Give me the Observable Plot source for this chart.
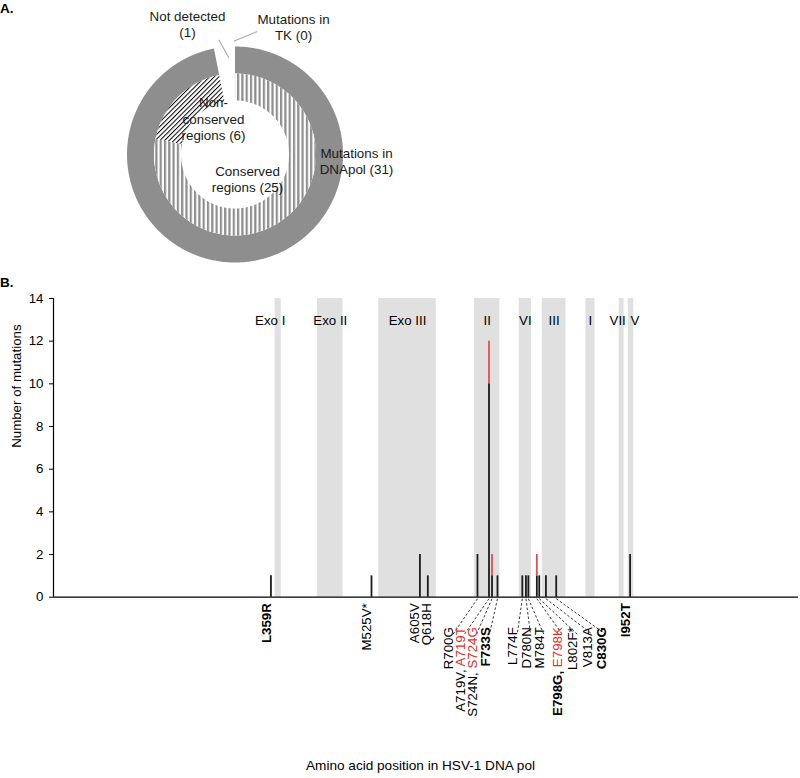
<!DOCTYPE html>
<html>
<head>
<meta charset="utf-8">
<script src="https://cdn.jsdelivr.net/npm/d3@7"></script>
<script src="https://cdn.jsdelivr.net/npm/@observablehq/plot@0.6"></script>
<style>
  body { margin: 0; background: #fff; font-family: "Liberation Sans", Arial, sans-serif; }
  #wrap { position: relative; width: 800px; height: 778px; overflow: hidden; background: #fff; }
  .plabel { position: absolute; font-weight: bold; font-size: 13.5px; line-height: 13.5px; color: #000; }
  #donut { position: absolute; left: 0; top: 0; }
  #bars { position: absolute; left: 0; top: 280px; }
</style>
</head>
<body>
<div id="wrap">
  <div id="donut"></div>
  <div id="bars"></div>
  <div class="plabel" style="left:0px;top:2px">A.</div>
  <div class="plabel" style="left:0px;top:276px">B.</div>
</div>
<script>
// ================= DATA =================
// Panel A: doughnut
const outerCategories = ["Mutations in DNApol", "Not detected", "Mutations in TK"];
const outerValues = [31, 1, 0];
const innerCategories = ["Conserved regions", "Non-conserved regions", "Not detected"];
const innerValues = [25, 6, 1];

// Panel B: conserved regions of HSV-1 DNA pol (amino acid ranges)
const regionNames = ["Exo I", "Exo II", "Exo III", "II", "VI", "III", "I", "VII", "V"];
const regionStart = [366, 436, 537, 695, 769, 807, 879, 934, 949];
const regionEnd   = [376, 478, 632, 737, 789, 846, 894, 942, 958];

// Panel B: mutations
const mutationNames     = ["L359R","M525V","A605V","Q618H","R700G","A719V","A719T","S724N","S724G","F733S","L774F","D780N","M784T","E798G","E798K","L802F","V813A","C830G","I952T"];
const mutationPositions = [359, 525, 605, 618, 700, 719, 719, 724, 724, 733, 774, 780, 784, 798, 798, 802, 813, 830, 952];
const mutationCounts    = [1, 1, 2, 1, 2, 10, 2, 1, 1, 1, 1, 1, 1, 1, 1, 1, 1, 1, 2];
const mutationClass     = ["standard","standard","standard","standard","standard","standard","highlighted","standard","highlighted","standard","standard","standard","standard","standard","highlighted","standard","standard","standard","standard"];

// Axis labels under the position axis
const axisLabelTexts     = ["L359R","M525V*","A605V","Q618H","R700G","A719V, A719T","S724N, S724G","F733S","L774F","D780N","M784T","E798G, E798K","L802F*","V813A","C830G","I952T"];
const axisLabelPositions = [359, 525, 605, 618, 700, 719, 724, 733, 774, 780, 784, 798, 802, 813, 830, 952];
const boldNames = ["L359R","F733S","E798G","C830G","I952T"];

const yTicks = [0, 2, 4, 6, 8, 10, 12, 14];

// ================= STYLE / LAYOUT =================
const FONT = "'Liberation Sans', Arial, Helvetica, sans-serif";
const RED_TEXT = "#e62e28";
const RED_BAR = "#df5050";
const RING_GRAY = "#8e8e8e";

// ---------------- Panel A ----------------
const A_W = 400, A_H = 280, A_CX = 234.5, A_CY = 154, A_R = 108;
const ringInner = 0.75, holeR = 0.5; // relative radii

const pie = d3.pie().sort(null).value(d => d.value);
const outerArcs = pie(outerCategories.map((c, i) => ({cat: c, value: outerValues[i]})));
const innerArcs = pie(innerCategories.map((c, i) => ({cat: c, value: innerValues[i]})));

function ringSlice(a0, a1, r0, r1) {
  const n = Math.max(2, Math.ceil((a1 - a0) / 0.01));
  const pts = [];
  for (let i = 0; i <= n; i++) { const a = a0 + (a1 - a0) * i / n; pts.push([r1 * Math.sin(a), r1 * Math.cos(a)]); }
  for (let i = n; i >= 0; i--) { const a = a0 + (a1 - a0) * i / n; pts.push([r0 * Math.sin(a), r0 * Math.cos(a)]); }
  pts.push(pts[0]);
  return pts;
}
const outerFill = {"Mutations in DNApol": RING_GRAY, "Not detected": "none", "Mutations in TK": "none"};
const innerFill = {"Conserved regions": "url(#vstripe)", "Non-conserved regions": "url(#hatch)", "Not detected": "none"};

const sliceMarks = [];
outerArcs.filter(a => a.value > 0 && outerFill[a.data.cat] !== "none").forEach(a => {
  sliceMarks.push(Plot.line(ringSlice(a.startAngle, a.endAngle, ringInner, 1), {x: d => d[0], y: d => d[1], fill: outerFill[a.data.cat], stroke: "none"}));
});
innerArcs.filter(a => a.value > 0 && innerFill[a.data.cat] !== "none").forEach(a => {
  sliceMarks.push(Plot.line(ringSlice(a.startAngle, a.endAngle, holeR, ringInner), {x: d => d[0], y: d => d[1], fill: innerFill[a.data.cat], stroke: "none"}));
});

// label positions (pixels in panel A) -> unit coordinates
const ux = px => (px - A_CX) / A_R, uy = py => (A_CY - py) / A_R;
const donutLabels = [
  {text: `Not detected\n(${outerValues[1]})`, px: 187, py: 23.5},
  {text: `Mutations in\nTK (${outerValues[2]})`, px: 293, py: 26.2},
  {text: `Non-\nconserved\nregions (${innerValues[1]})`, px: 213, py: 117.9},
  {text: `Conserved\nregions (${innerValues[0]})`, px: 247, py: 178.2},
  {text: `Mutations in\nDNApol (${outerValues[0]})`, px: 356, py: 160.4}
];
const donutLeaders = [
  {x1: 218.3, y1: 39.3, x2: 228.3, y2: 57.3},
  {x1: 256.7, y1: 31.0, x2: 233.3, y2: 40.7}
];

const svgA = Plot.plot({
  width: A_W, height: A_H,
  marginLeft: A_CX - A_R, marginRight: A_W - A_CX - A_R,
  marginTop: A_CY - A_R, marginBottom: A_H - A_CY - A_R,
  x: {domain: [-1, 1], axis: null},
  y: {domain: [-1, 1], axis: null},
  style: {fontFamily: FONT, fontSize: "13.4px", background: "transparent", overflow: "visible", color: "#1a1a1a"},
  marks: [
    ...sliceMarks,
    Plot.link(donutLeaders, {x1: d => ux(d.x1), y1: d => uy(d.y1), x2: d => ux(d.x2), y2: d => uy(d.y2), stroke: "#a8a8a8", strokeWidth: 1.1}),
    Plot.text(donutLabels, {x: d => ux(d.px), y: d => uy(d.py), text: "text", lineHeight: 1.22, fill: "#1a1a1a", fontSize: 13.4})
  ]
});
const defs = document.createElementNS("http://www.w3.org/2000/svg", "defs");
defs.innerHTML = `
  <pattern id="vstripe" patternUnits="userSpaceOnUse" x="0" y="0" width="4.3" height="10">
    <rect width="4.3" height="10" fill="#fff"/><rect width="2.2" height="10" fill="${RING_GRAY}"/>
  </pattern>
  <pattern id="hatch" patternUnits="userSpaceOnUse" width="3.3" height="3.3" patternTransform="rotate(45)">
    <rect width="3.3" height="3.3" fill="#fff"/><rect x="0" y="0" width="1" height="3.3" fill="#000"/>
  </pattern>`;
svgA.insertBefore(defs, svgA.firstChild);
document.getElementById("donut").appendChild(svgA);

// ---------------- Panel B ----------------
const W = 800, H = 498, mL = 53, mR = 2, mT = 18, mB = 181.3;
const xMin = 0, xMax = 1230, yMax = 14;
const kx = (W - mL - mR) / (xMax - xMin);   // px per amino acid
const ky = (H - mT - mB) / yMax;           // px per mutation
const pxToX = px => xMin + (px - mL) / kx;  // page px -> amino acid
const belowAxis = px => -px / ky;           // px below the axis -> y value

const regions = regionNames.map((n, i) => ({name: n, start: regionStart[i], end: regionEnd[i]}));
const regionLabelShiftPx = {"Exo I": -8, "VII": -4, "V": 4};

const mutations = mutationNames.map((n, i) => ({name: n, pos: mutationPositions[i], count: mutationCounts[i], cls: mutationClass[i]}));
const redNames = mutationNames.filter((n, i) => mutationClass[i] === "highlighted");

// label columns for labels connected by dashed leader lines (page x, px)
const leaderColumnPx = {700: 452.5, 719: 464, 724: 476, 733: 489, 774: 516.7, 780: 530, 784: 543.3, 798: 561.7, 802: 576.7, 813: 591.7, 830: 605};
const directShiftPx = {605: -1, 618: 2.7};
const axisLabels = axisLabelTexts.map((t, i) => {
  const pos = axisLabelPositions[i];
  const col = leaderColumnPx[pos];
  return {text: t, pos, leader: col !== undefined, lx: col !== undefined ? pxToX(col) : pos + (directShiftPx[pos] || 0) / kx};
});
const direct = axisLabels.filter(d => !d.leader);
const leadered = axisLabels.filter(d => d.leader);

const svgB = Plot.plot({
  width: W, height: H,
  marginLeft: mL, marginRight: mR, marginTop: mT, marginBottom: mB,
  x: {domain: [xMin, xMax], axis: null},
  y: {domain: [0, yMax], ticks: yTicks, tickSize: 4, tickPadding: 6, label: null},
  color: {domain: ["standard", "highlighted"], range: ["#1c1c1c", RED_BAR]},
  style: {fontFamily: FONT, fontSize: "13.3px", background: "transparent", overflow: "visible", color: "#000"},
  marks: [
    Plot.rect(regions, {x1: "start", x2: "end", y1: 0, y2: yMax, fill: "#e0e0e0"}),
    Plot.text(regions, {x: d => (d.start + d.end) / 2 + (regionLabelShiftPx[d.name] || 0) / kx, text: "name", frameAnchor: "top", dy: 17, fill: "#000", fontSize: 13.3}),
    Plot.ruleX(mutations, Plot.stackY({x: "pos", y: "count", stroke: "cls", strokeWidth: 1.8})),
    Plot.ruleY([0], {stroke: "#000", strokeWidth: 1.2}),
    Plot.ruleX([0], {stroke: "#000", strokeWidth: 1.2}),
    Plot.link(leadered, {x1: "pos", x2: "lx", y1: belowAxis(1.5), y2: belowAxis(37), stroke: "#000", strokeWidth: 0.8, strokeDasharray: "2.5,2"}),
    Plot.text(direct, {x: "lx", text: "text", frameAnchor: "bottom", dy: 6, rotate: -90, textAnchor: "end", fill: "#000", fontSize: 13.3}),
    Plot.text(leadered, {x: "lx", text: "text", frameAnchor: "bottom", dy: 30, rotate: -90, textAnchor: "end", fill: "#000", fontSize: 13.3}),
    Plot.text(["Number of mutations"], {text: d => d, frameAnchor: "left", dx: -37, rotate: -90, fill: "#000", fontSize: 13.3}),
    Plot.text(["Amino acid position in HSV-1 DNA pol"], {text: d => d, frameAnchor: "bottom", dx: -5.5, dy: 173, fill: "#000", fontSize: 13.6})
  ]
});
// colour / weight the individual mutation names inside the labels
const labelSet = new Set(axisLabelTexts);
svgB.querySelectorAll("text").forEach(t => {
  if (t.querySelector("tspan")) return;
  const content = t.textContent;
  if (!labelSet.has(content)) return;
  const parts = content.split(", ");
  while (t.firstChild) t.removeChild(t.firstChild);
  parts.forEach((p, i) => {
    const ts = document.createElementNS("http://www.w3.org/2000/svg", "tspan");
    ts.textContent = p + (i < parts.length - 1 ? ", " : "");
    const name = p.replace("*", "");
    if (redNames.includes(name)) ts.setAttribute("fill", RED_TEXT);
    if (boldNames.includes(name)) ts.setAttribute("font-weight", "bold");
    t.appendChild(ts);
  });
});
document.getElementById("bars").appendChild(svgB);
</script>
</body>
</html>
